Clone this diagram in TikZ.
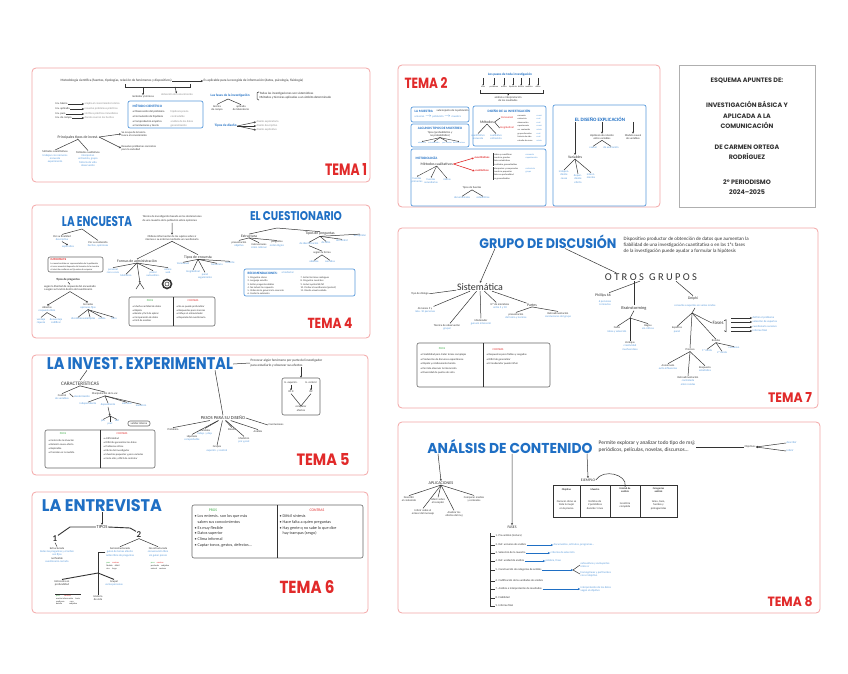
\documentclass[tikz,border=0pt]{standalone}
\usepackage{fontspec}
\setmainfont{Carlito}
\newfontfamily\temafont{Poppins}
\usetikzlibrary{arrows.meta, positioning}

\definecolor{borde}{HTML}{F3A6A6}
\definecolor{rojo}{HTML}{E12A2A}
\definecolor{azul}{HTML}{1F6FC4}
\definecolor{azulclaro}{HTML}{5A9BDC}
\definecolor{verde}{HTML}{3FAE49}
\definecolor{tinta}{HTML}{333333}
\definecolor{gris}{HTML}{8C8C8C}

% titulos estrechos: ancho y alto en bp
\newcommand{\ajusta}[3]{\resizebox{#1bp}{#2bp}{#3}}

\tikzset{
  panel/.style={draw=borde, line width=0.8pt, rounded corners=4pt},
  portadabox/.style={draw=gris!70, line width=0.6pt},
  portada/.style={font=\temafont\bfseries\fontsize{6.4}{10.5}\selectfont, align=center, text=tinta, inner sep=0pt},
  tema/.style={font=\temafont\bfseries, text=rojo, inner sep=0pt},
  titulo/.style={font=\temafont\bfseries, text=azul, inner sep=0pt},
  nota/.style={font=\fontsize{2.8}{3.4}\selectfont, text=tinta, inner sep=0.5pt, align=left},
  notaazul/.style={nota, text=azulclaro},
  notagris/.style={nota, text=gris},
  media/.style={font=\fontsize{3.8}{4.4}\selectfont, text=tinta, inner sep=0.5pt, align=left},
  cabecera/.style={font=\bfseries\fontsize{3.4}{4}\selectfont, text=azul, inner sep=0.5pt},
  mano/.style={font=\fontsize{10}{10}\selectfont, text=tinta, inner sep=0.5pt},
  cajaazul/.style={draw=azulclaro, line width=0.7pt, rounded corners=2pt},
  cajagris/.style={draw=tinta!75, line width=0.6pt, rounded corners=2pt},
  rama/.style={draw=tinta, line width=0.5pt},
  flecha/.style={rama, -{Stealth[length=2pt, width=2pt]}},
  flechita/.style={rama, line width=0.4pt, -{Stealth[length=1.2pt, width=1.2pt]}},
  flechaazul/.style={draw=azul, line width=0.8pt, -{Stealth[length=2pt, width=2pt]}},
  flecharoja/.style={draw=rojo, line width=0.6pt, -{Stealth[length=2pt, width=2pt]}},
}

\begin{document}
\begin{tikzpicture}[x=1bp, y=-1bp]
\useasboundingbox (0,0) rectangle (848,674);
\fill[white] (0,0) rectangle (848,674);

%% ---------- TEMA 1 ----------
\draw[panel] (32,68) rectangle (370,182);
\node[tema] (tema1) at (346,169) {\ajusta{42}{12}{TEMA 1}};
\node[nota, font=\fontsize{3.4}{4}\selectfont, anchor=west] (t1def) at (60,81) {Metodología científica (fuentes, tipologías, relación de fenómenos y dispositivos)};
\node[nota, font=\fontsize{3.4}{4}\selectfont, anchor=west] (t1obj) at (203,81) {Es aplicable para la recogida de información (datos, psicología, fisiología)};
\draw[flecha] (t1def) -- (t1obj);
\coordinate (t1ca) at (125,84);
\coordinate (t1cb) at (190,84);
\draw[rama] (t1ca) -- ++(0,3) -| (t1cb);
\coordinate (t1c1) at (143,87);
\coordinate (t1c2) at (175,87);
\node[nota] (t1m1) at (143,97) {métodos y técnicas};
\node[notagris] (t1m2) at (177,95) {obtención del conocimiento};
\draw[flecha] (t1c1) -- (t1m1);
\draw[flecha] (t1c2) -- (t1m2);
\foreach \y/\a/\b [count=\i] in {104/Inv. básica/amplía el conocimiento teórico, 109/Inv. aplicada/resuelve problemas prácticos, 114/Inv. pura/sin fines prácticos inmediatos, 118/Inv. de campo/donde ocurren los hechos} {
  \node[nota, anchor=west] (t1l\i) at (55,\y) {\a};
  \node[notagris, anchor=west] (t1r\i) at (84,\y) {\b};
  \draw[flecha] (t1l\i) -- (t1r\i);
}
\draw[cajaazul] (128,101) rectangle (203,128);
\node[cabecera, anchor=west] (t1mc) at (132,106) {MÉTODO CIENTÍFICO};
\foreach \y/\a/\b [count=\i] in {112/Observación del problema/hipótesis previa, 117/Formulación de hipótesis/contrastable, 122/Comprobación empírica/análisis de los datos, 126/Conclusiones y teoría/generalización} {
  \node[nota, anchor=west] (t1mc\i) at (132,\y) {• \a};
  \node[notagris, anchor=west] (t1md\i) at (170,\y) {\b};
}
\node[cabecera, anchor=west] (t1fa) at (210,96) {Las fases de la investigación};
\node[nota, font=\fontsize{3.2}{4.2}\selectfont, anchor=west] (t1fb) at (259,96) {Todas las investigaciones son sistemáticas\\Métodos y técnicas aplicadas a un ámbito determinado};
\draw[rama] (t1fb.north west) -- ++(-2,1) -- ++(0,6) -- (t1fb.south west);
\coordinate (t1fx) at (228,99);
\node[nota, align=center] (t1fc) at (217,108) {teórica\\de campo};
\node[nota, align=center] (t1fd) at (241,108) {aplicada\\de laboratorio};
\draw[rama] (t1fx) -- (t1fc.north);
\draw[rama] (t1fx) -- (t1fd.north);
\node[cabecera, anchor=west] (t1ti) at (214,126) {Tipos de diseño};
\foreach \y/\t [count=\i] in {122/diseño exploratorio, 126/diseño descriptivo, 130/diseño explicativo} {
  \node[notagris, anchor=west] (t1ti\i) at (256,\y) {\t};
  \draw[flecha] (t1ti.east) -- (t1ti\i.west);
}
\node[media] (t1pt) at (78,137) {Principales tipos de invest.};
\node[nota, anchor=west] (t1pa) at (121,134) {Se ocupa de la teoría\\busca el conocimiento};
\node[nota, anchor=west] (t1pb) at (121,148) {Resuelve problemas concretos\\para la sociedad};
\draw[flecha] (t1pt.east) -- (t1pa.west);
\draw[flecha] (t1pt.east) -- (t1pb.west);
\node[nota, align=center] (t1pc) at (55,157) {Métodos cuantitativos\\\textcolor{azulclaro}{trabajan con números}\\\textcolor{azulclaro}{encuesta}\\\textcolor{azulclaro}{experimento}};
\node[nota, align=center] (t1pd) at (88,159) {Métodos cualitativos\\\textcolor{azulclaro}{interpretan}\\\textcolor{azulclaro}{entrevista, grupo}\\\textcolor{azulclaro}{historia de vida}\\\textcolor{azulclaro}{observación}};
\draw[rama] (t1pt.south) -- (t1pc.north);
\draw[rama] (t1pt.south) -- (t1pd.north);

%% ---------- TEMA 2 ----------
\draw[panel] (398,65) rectangle (660,207);
\node[tema] (tema2) at (426,83) {\ajusta{43}{11}{TEMA 2}};
\node[cabecera] (t2pa) at (510,75) {Los pasos de toda investigación};
\foreach \x/\t [count=\i] in {483/idea, 494/problema, 504/marco, 513/hipótesis, 521/diseño, 529/muestra, 538/datos} {
  \coordinate (t2s\i) at (\x,78);
  \node[nota, font=\fontsize{2.2}{2.6}\selectfont] (t2p\i) at (\x,87) {\t};
  \draw[flechita] (t2s\i) -- (t2p\i);
}
\coordinate (t2ba) at (480,90);
\coordinate (t2bb) at (543,90);
\draw[rama] (t2ba) -- ++(0,3) -| (t2bb);
\node[nota, align=center] (t2pb) at (508,99) {análisis e interpretación\\de los resultados};
\coordinate (t2bc) at (508,93);
\draw[flechita] (t2bc) -- (t2pb.north);
% caja muestra
\draw[cajaazul] (411,107) rectangle (469,122);
\node[cabecera, anchor=west] (t2ma) at (414,111) {LA MUESTRA};
\node[nota, anchor=west] (t2mb) at (436,111) {subconjunto de la población};
\node[notaazul, anchor=west] (t2mc) at (414,117) {universo $\rightarrow$ población $\rightarrow$ muestra};
% caja tipos de muestreo
\draw[cajaazul] (411,124) rectangle (469,147);
\node[cabecera] (t2ta) at (440,128) {ALGUNOS TIPOS DE MUESTREO};
\node[nota, align=center] (t2tb) at (440,134) {Tipos (probabilístico y\\no probabilístico)};
\foreach \x/\t [count=\i] in {422/aleatorio, 434/estratificado, 447/por cuotas, 459/bola de nieve} {
  \node[notaazul, font=\fontsize{2.2}{2.6}\selectfont] (t2t\i) at (\x,143) {\t};
  \draw[flechita] (t2tb.south) -- (t2t\i.north);
}
% caja diseño
\draw[cajaazul] (473,106) rectangle (546,146);
\node[cabecera] (t2da) at (509,111) {DISEÑO DE LA INVESTIGACIÓN};
\node[media] (t2db) at (487,122) {Métodos};
\node[notaazul, align=center] (t2dc) at (478,137) {cuantitativo\\encuesta};
\node[notaazul, align=center] (t2dd) at (496,137) {cualitativo\\entrevista};
\draw[rama] (t2db.south) -- (t2dc.north);
\draw[rama] (t2db.south) -- (t2dd.north);
\node[nota, text=rojo] (t2de) at (507,118) {transversal};
\node[nota, text=rojo] (t2df) at (507,128) {longitudinal};
\draw[rama] (t2db.east) -- (t2de.west);
\draw[rama] (t2db.east) -- (t2df.west);
\node[nota, anchor=north west, font=\fontsize{2.2}{3.6}\selectfont] (t2dl) at (517,114) {encuesta\\entrevista\\observación\\experimento\\an. contenido\\grupo discusión\\historia de vida\\estudio de casos};
\node[notaazul, anchor=north west, font=\fontsize{2.2}{3.6}\selectfont] (t2dm) at (536,114) {cuant.\\cual.\\cual.\\cuant.\\mixto\\cual.\\cual.\\mixto};
% caja metodologia
\draw[cajaazul] (411,149) rectangle (546,206);
\node[cabecera, anchor=west] (t2me) at (415,158) {METODOLOGÍA};
\node[media, anchor=west] (t2mf) at (420,164) {Métodos cualitativos};
\node[nota, text=rojo, font=\bfseries\fontsize{2.8}{3.4}\selectfont] (t2mr1) at (482,158) {cuantitativos};
\node[nota, text=rojo, font=\bfseries\fontsize{2.8}{3.4}\selectfont] (t2mr2) at (482,171) {cualitativos};
\draw[flecharoja] (t2mf.east) -- (t2mr1.west);
\draw[flecharoja] (t2mf.east) -- (t2mr2.west);
\node[nota, anchor=north west, font=\fontsize{2.3}{3.3}\selectfont] (t2ml1) at (493,153) {miden y cuantifican\\muestras grandes\\datos estadísticos\\resultados generalizables};
\node[nota, anchor=north west, font=\fontsize{2.3}{3.3}\selectfont] (t2ml2) at (493,167) {interpretan y comprenden\\muestras pequeñas\\datos en profundidad\\no generalizables};
\draw[rama] (t2ml1.north west) -- (t2ml1.south west);
\draw[rama] (t2ml2.north west) -- (t2ml2.south west);
\node[notaazul, anchor=north west, font=\fontsize{2.3}{3.3}\selectfont] (t2ml3) at (525,153) {encuesta\\experimento};
\node[notaazul, anchor=north west, font=\fontsize{2.3}{3.3}\selectfont] (t2ml4) at (525,167) {entrevista\\grupo};
\node[notaazul, align=center] (t2mg1) at (417,180) {fuentes\\primarias};
\node[notaazul, align=center] (t2mg2) at (431,181) {fuentes\\secundarias};
\node[notaazul, align=center] (t2mg3) at (447,180) {mixtas};
\foreach \i in {1,2,3} {\draw[flechita] (t2mf.south) -- (t2mg\i.north);}
\node[nota] (t2fu) at (472,188) {Tipos de fuentes};
\node[notaazul, align=center] (t2fu1) at (462,198) {documentales};
\node[notaazul, align=center] (t2fu2) at (483,198) {estadísticas};
\draw[rama] (t2fu.south) -- (t2fu1.north);
\draw[rama] (t2fu.south) -- (t2fu2.north);
% caja diseño explicacion
\draw[cajaazul] (553,105) rectangle (646,206);
\node[cabecera, font=\bfseries\fontsize{5}{6}\selectfont] (t2ea) at (600,119) {EL DISEÑO EXPLICACIÓN};
\node[media, align=center] (t2eb) at (575,157) {Variables};
\draw[flecha] (t2ea.south -| t2eb.north) -- (t2eb.north);
\node[notaazul, align=center] (t2ec) at (564,175) {indepen-\\diente\\causa};
\node[notaazul, align=center] (t2ed) at (578,179) {depen-\\diente\\efecto};
\node[notaazul, align=center] (t2ee) at (591,176) {intervi-\\nientes};
\draw[rama] (t2eb.south) -- (t2ec.north);
\draw[rama] (t2eb.south) -- (t2ed.north);
\draw[rama] (t2eb.south) -- (t2ee.north);
\node[nota, align=center] (t2ef) at (602,137) {Hipótesis de relación\\entre variables};
\draw[flecha] (t2ea.south -| t2ef.north) -- (t2ef.north);
\node[notaazul, align=center] (t2eg) at (593,148) {causal};
\node[notaazul, align=center] (t2eh) at (611,148) {de asociación};
\draw[rama] (t2ef.south) -- (t2eg.north);
\draw[rama] (t2ef.south) -- (t2eh.north);
\node[nota, align=center] (t2ei) at (633,137) {Modelo causal\\de variables};
\draw[flecha] (t2ea.south -| t2ei.north) -- (t2ei.north);

%% ---------- PORTADA ----------
\draw[portadabox] (679,65) rectangle (815,207);
\node[portada] (p1) at (747,81) {ESQUEMA APUNTES DE:};
\node[portada] (p2) at (747,115) {INVESTIGACIÓN BÁSICA Y\\APLICADA A LA\\COMUNICACIÓN};
\node[portada] (p3) at (747,152) {DE CARMEN ORTEGA\\RODRÍGUEZ};
\node[portada] (p4) at (747,187) {2º PERIODISMO\\2024–2025};

%% ---------- TEMA 4 ----------
\draw[panel] (32,205) rectangle (370,338);
\node[tema] (tema4) at (330,323) {\ajusta{45}{10.5}{TEMA 4}};
\node[titulo] (encuesta) at (97,222) {\ajusta{70}{10}{LA ENCUESTA}};
\node[nota, font=\fontsize{2.8}{4}\selectfont, anchor=west] (t4def) at (142,219) {Técnica de investigación basada en las declaraciones\\de una muestra de la población sobre opiniones};
\node[nota, align=center] (t4tec) at (172,238) {Obtiene información de los sujetos sobre sí\\mismos o su entorno mediante un cuestionario};
\draw[flecha] (t4def.south) -- (t4tec.north);
\node[media] (t4ma) at (137,261) {Formas de administración};
\node[media] (t4mb) at (198,257) {Tipos de encuesta};
\draw[rama] (t4tec.south) -- (t4ma.north);
\draw[rama] (t4tec.south) -- (t4mb.north);
\foreach \x/\y/\t [count=\i] in {113/271/personal\\cara a cara, 126/276/telefónica, 153/274/postal\\autoadmin., 168/271/online\\web} {
  \node[notaazul, align=center] (t4a\i) at (\x,\y) {\t};
  \draw[rama] (t4ma.south) -- (t4a\i.north);
}
\coordinate (t4v) at (140,283);
\coordinate (t4v1) at (136,289);
\coordinate (t4v2) at (144,289);
\draw[flecha] (t4ma.south) -- (t4v);
\draw[rama] (t4v1) -- (t4v) -- (t4v2);
\node[circle, draw=tinta, line width=1.6pt, minimum size=9bp, inner sep=0pt] (t4cd) at (167,284) {};
\node[circle, draw=tinta, line width=0.5pt, minimum size=4bp, inner sep=0pt] (t4cd2) at (t4cd) {};
\foreach \x/\y/\t [count=\i] in {183/264/transversal, 193/272/longitudinal, 205/276/panel\\seguimiento, 217/265/tendencia, 230/263/cohorte} {
  \node[notaazul, align=center] (t4b\i) at (\x,\y) {\t};
  \draw[rama] (t4mb.south) -- (t4b\i.north);
}
\draw[cajagris] (129,297) rectangle (215,326);
\draw[rama] (173,297) -- (173,326);
\node[nota, text=verde] (t4pros) at (150,301) {PROS};
\node[nota, text=rojo] (t4contras) at (193,301) {CONTRAS};
\node[nota, anchor=north west, font=\fontsize{2.6}{3.6}\selectfont] (t4pl) at (132,305) {• Mucha cantidad de datos\\• Rápida\\• Barata y fácil de aplicar\\• Comparación de datos\\• Fácil de analizar};
\node[nota, anchor=north west, font=\fontsize{2.6}{3.6}\selectfont] (t4cl) at (176,305) {• No se puede profundizar\\• Respuestas poco sinceras\\• Influye el entrevistador\\• Depende del cuestionario};
\coordinate (t4ap) at (82,229);
\node[nota, align=center] (t4c1) at (62,238) {Por su finalidad\\\textcolor{azulclaro}{descriptiva}};
\node[nota, align=center] (t4c2) at (98,244) {Por su contenido\\\textcolor{azulclaro}{hechos, opiniones}};
\node[notaazul] (t4c3) at (68,247) {explicativa};
\draw[rama] (t4ap) -- (t4c1.north);
\draw[rama] (t4ap) -- (t4c2.north);
\draw[flecha] (t4c1.south) -- (t4c3.north);
\draw[cajagris] (48,257) rectangle (103,272);
\node[nota, text=rojo, font=\bfseries\fontsize{2.8}{3.4}\selectfont, anchor=west] (t4imp) at (50,260) {IMPORTANTE};
\node[nota, anchor=north west, font=\fontsize{2.3}{3.1}\selectfont] (t4impt) at (50,262.5) {La muestra debe ser representativa de la población\\el error muestral depende del tamaño de la muestra\\el nivel de confianza se fija antes de empezar};
\node[nota, font=\bfseries\fontsize{3}{3.5}\selectfont] (t4tip) at (68,280) {Tipos de preguntas};
\node[nota, align=left] (t4tipt) at (70,288) {según la libertad de respuesta del encuestado\\o según su función dentro del cuestionario};
\draw[rama] (t4tip.south) -- (t4tipt.north);
\node[nota, align=center] (t4q1) at (47,309) {Abiertas\\\textcolor{azulclaro}{respuesta libre}};
\node[nota, align=center] (t4q2) at (88,306) {Cerradas\\\textcolor{azulclaro}{opciones fijas}};
\draw[flecha] (t4tipt.south) -- (t4q1.north);
\draw[flecha] (t4tipt.south) -- (t4q2.north);
\node[notaazul, align=center] (t4q3) at (41,321) {ventaja\\riqueza};
\node[notaazul, align=center] (t4q4) at (56,321) {desventaja\\codificar};
\draw[rama] (t4q1.south) -- (t4q3.north);
\draw[rama] (t4q1.south) -- (t4q4.north);
\foreach \x/\t [count=\i] in {78/dicotómicas, 90/múltiples, 102/escala, 114/filtro} {
  \node[notaazul, align=center] (t4r\i) at (\x,319) {\t};
  \draw[rama] (t4q2.south) -- (t4r\i.north);
}
\node[titulo] (cuestionario) at (296,216) {\ajusta{92}{9}{EL CUESTIONARIO}};
\coordinate (t4cap) at (277,228);
\node[media] (t4cl1) at (249,236) {Estructura};
\node[media] (t4cr1) at (320,234) {Tipos de preguntas};
\draw[rama] (t4cap) -- (t4cl1.north);
\draw[rama] (t4cap) -- (t4cr1.north);
\foreach \x/\y/\t [count=\i] in {239/244/presentación\\\textcolor{azulclaro}{objetivo}, 259/246/instrucciones\\\textcolor{azulclaro}{cómo rellenar}, 277/244/preguntas\\\textcolor{azulclaro}{orden lógico}} {
  \node[nota, align=center] (t4cq\i) at (\x,\y) {\t};
  \draw[rama] (t4cl1.south) -- (t4cq\i.north);
}
\foreach \x/\y/\t [count=\i] in {309/244/de identificación, 326/243/de filtro, 342/241/de control, 360/236/de opinión} {
  \node[notaazul, align=center] (t4cp\i) at (\x,\y) {\t};
  \draw[rama] (t4cr1.south) -- (t4cp\i.north);
}
\node[nota] (t4cs) at (322,253) {según su forma};
\draw[rama] (t4cp1.south) -- (t4cs.north);
\node[notaazul] (t4cs1) at (314,262) {abiertas};
\node[notaazul] (t4cs2) at (330,262) {cerradas};
\draw[rama] (t4cs.south) -- (t4cs1.north);
\draw[rama] (t4cs.south) -- (t4cs2.north);
\draw[cajaazul] (244,269) rectangle (355,296);
\node[cabecera, anchor=west] (t4rec) at (247,273) {RECOMENDACIONES:};
\node[notaazul, anchor=west] (t4rec2) at (281,273) {al redactar};
\node[nota, anchor=north west, font=\fontsize{2.5}{3.3}\selectfont] (t4rl) at (247,276) {1. Preguntas claras\\2. Lenguaje sencillo\\3. Evitar preguntas dobles\\4. No inducir la respuesta\\5. Orden de lo general a lo concreto\\6. Cuidar la extensión};
\node[nota, anchor=north west, font=\fontsize{2.5}{3.3}\selectfont] (t4rr) at (300,276) {7. Evitar términos ambiguos\\8. Preguntas neutrales\\9. Incluir opción NS/NC\\10. Probar el cuestionario (pretest)\\11. Diseño visual cuidado};

%% ---------- TEMA 7 ----------
\draw[panel] (398,228) rectangle (818,408);
\node[tema] (tema7) at (790,397) {\ajusta{44}{10}{TEMA 7}};
\node[titulo] (grupo) at (548,241.5) {\ajusta{137}{13.5}{GRUPO DE DISCUSIÓN}};
\node[nota, font=\fontsize{5}{6}\selectfont, anchor=west] (t7def) at (623,245) {Dispositivo productor de obtención de datos que aumentan la\\fiabilidad de una investigación cuantitativa o en las 1ªs fases\\de la investigación puede ayudar a formular la hipótesis};
\node[mano] (sistematica) at (480,287) {Sistemática};
\node[mano, font=\fontsize{10.5}{10.5}\selectfont] (otros) at (651,277) {O T R O S\enspace G R U P O S};
\draw[flecha] ([xshift=-53bp]grupo.south) -- (sistematica.north);
\draw[rama] ([xshift=17bp]grupo.south) -- ([xshift=12bp]otros.north west);
\foreach \x/\y/\t/\u [count=\i] in {420/295/Tipo de diálogo/, 425/310/Al menos 5 y/máx. 10 personas, 447/327/Técnica de observación/grupal, 481/322/Moderador/guía sin intervenir, 500/306/Nº de miembros/entre 5 y 10} {
  \node[nota, align=center] (t7s\i) at (\x,\y) {\t\\\textcolor{azulclaro}{\u}};
  \draw[rama] (sistematica) -- (t7s\i);
}
\node[media] (t7s6) at (532,305) {Partes};
\draw[rama] (sistematica) -- (t7s6);
\node[nota, align=center] (t7s7) at (516,316) {presentación\\\textcolor{azulclaro}{del tema y normas}};
\node[nota, align=center] (t7s8) at (558,315) {Retroalimentación\\\textcolor{azulclaro}{conclusiones del grupo}};
\draw[rama] (t7s6.south) -- (t7s7.north);
\draw[rama] (t7s6.south) -- (t7s8.north);
\draw[cajagris] (417,343) rectangle (550,387);
\draw[rama] (483,343) -- (483,387);
\node[nota, text=verde] (t7pros) at (442,349) {PROS};
\node[nota, text=rojo] (t7contras) at (498,350) {CONTRAS};
\node[nota, anchor=north west, font=\fontsize{2.7}{4.6}\selectfont] (t7pl) at (420,353) {• Flexibilidad para tratar temas complejos\\• Producción de discursos espontáneos\\• Rápido y relativamente barato\\• Permite observar la interacción\\• Diversidad de puntos de vista};
\node[nota, anchor=north west, font=\fontsize{2.7}{4.6}\selectfont] (t7cl) at (486,353) {• Respuestas poco fiables y sesgadas\\• Difícil de generalizar\\• El moderador puede influir};
\node[media] (t7o1) at (603,295) {Phillips 66};
\node[notaazul, align=center] (t7o1b) at (605,303) {6 personas\\6 minutos};
\draw[rama] (otros) -- (t7o1);
\node[media, font=\fontsize{4.4}{5}\selectfont] (t7o2) at (634,308) {Brainstorming};
\draw[rama] (otros.south -| t7o2.north) -- (t7o2.north);
\node[media] (t7o3) at (693,298) {Delphi};
\node[notaazul, align=center] (t7o3b) at (695,306) {consulta a expertos en varias rondas};
\draw[rama] ([xshift=25bp]otros.south) -- (t7o3.north);
\coordinate (t7b0) at (630,318);
\draw[rama] (t7o2.south) -- (t7b0);
\node[nota, align=center] (t7b1) at (617,330) {Fases\\\textcolor{azulclaro}{ideas y selección}};
\node[nota, align=center] (t7b2) at (648,327) {Reglas\\\textcolor{azulclaro}{sin críticas}};
\node[nota, align=center] (t7b3) at (630,346) {Ventajas\\\textcolor{azulclaro}{creatividad}\\\textcolor{azulclaro}{muchas ideas}};
\draw[rama] (t7b0) -- (t7b1.north);
\draw[rama] (t7b0) -- (t7b2.north);
\draw[rama] (t7b0) -- (t7b3.north);
\coordinate (t7d0) at (692,313);
\draw[rama] (t7o3b.south) -- (t7d0);
\node[nota, align=center] (t7d1) at (677,330) {Expertos\\\textcolor{azulclaro}{panel}};
\node[nota, align=center] (t7d2) at (690,350) {Proceso};
\node[media, font=\fontsize{5}{6}\selectfont] (t7d3) at (718,323) {Fases};
\node[nota, align=center] (t7d4) at (716,341) {Rondas};
\draw[rama] (t7d0) -- (t7d1.north);
\draw[rama] (t7d0) -- (t7d2.north);
\draw[rama] (t7d0) -- (t7d3.west);
\draw[rama] (t7d0) -- (t7d4.north);
\draw[rama] (t7d3.north east) -- ++(2,-1) -- ++(0,12) -- ++(-2,-1);
\foreach \y/\t [count=\i] in {318/definir el problema, 322/selección de expertos, 327/cuestionario sucesivo, 331/informe final} {
  \node[notaazul, anchor=west] (t7f\i) at (752,\y) {\t};
  \coordinate (t7fa\i) at (731,\y);
  \draw[flecha] (t7fa\i) -- (t7f\i.west);
}
\foreach \x/\y/\t [count=\i] in {707/351/1ª ronda, 722/353/2ª ronda, 734/348/consenso} {
  \node[notaazul] (t7r\i) at (\x,\y) {\t};
  \draw[rama] (t7d4.south) -- (t7r\i.north);
}
\node[nota, align=center] (t7d5) at (668,367) {Anonimato\\\textcolor{azulclaro}{evita influencias}};
\node[nota, align=center] (t7d6) at (688,381) {Retroalimentación\\\textcolor{azulclaro}{controlada}\\\textcolor{azulclaro}{entre rondas}};
\node[nota, align=center] (t7d7) at (705,369) {Respuesta\\\textcolor{azulclaro}{estadística}};
\draw[rama] (t7d2.south) -- (t7d5.north);
\draw[rama] (t7d2.south) -- (t7d6.north);
\draw[rama] (t7d2.south) -- (t7d7.north);

%% ---------- TEMA 5 ----------
\draw[panel] (32,355) rectangle (368,475);
\node[tema] (tema5) at (323,459) {\ajusta{53}{12}{TEMA 5}};
\node[titulo] (experimental) at (140,364) {\ajusta{186}{12}{LA INVEST. EXPERIMENTAL}};
\node[nota, font=\fontsize{3.4}{4.4}\selectfont, anchor=west] (t5def) at (250,363) {Provocar algún fenómeno por parte del investigador\\para estudiarlo y observar sus efectos};
\draw[rama] (experimental.east) -- (t5def.west);
\node[cajagris, minimum width=38bp, minimum height=37bp] (t5caja) at (301,396.5) {};
\draw[flecha] (t5def.south -| t5caja.north) -- (t5caja.north);
\node[nota] (t5g1) at (291,383) {G. experim.};
\node[nota] (t5g2) at (311,383) {G. control};
\node[nota] (t5o1) at (291,392) {O1 X};
\node[nota] (t5o2) at (311,392) {O2};
\draw[flecha] (t5g1) -- (t5o1);
\draw[flecha] (t5g2) -- (t5o2);
\node[nota, align=center] (t5r) at (301,409) {comparar\\efectos};
\draw[rama] (t5o1.south) -- (t5r.north) -- (t5o2.south);
\node[media, font=\fontsize{5.2}{6}\selectfont] (t5car) at (80,383) {CARACTERÍSTICAS};
\draw[rama] ([xshift=-53bp]experimental.south) -- (t5car.north);
\node[nota, align=center] (t5c1) at (62,397) {Control\\\textcolor{azulclaro}{de variables}};
\node[nota, align=center] (t5c2) at (105,394) {Manipulación de la var.};
\draw[rama] (t5car.south) -- (t5c1.north);
\draw[rama] (t5car.south) -- (t5c2.north);
\node[notaazul, align=center] (t5cc) at (82,397) {aleatorización};
\draw[rama] (t5c1.north east) -- (t5cc.west);
\foreach \x/\y/\t [count=\i] in {88/404/independiente, 108/405/dependiente, 127/404/extrañas, 141/406/medición} {
  \node[notaazul, align=center] (t5d\i) at (\x,\y) {\t};
  \draw[rama] (t5c2.south) -- (t5d\i.north);
}
\coordinate (t5y) at (110,416);
\draw[flecha] (t5d2.south) -- (t5y);
\node[notaazul] (t5y1) at (103,421) {pre};
\node[notaazul] (t5y2) at (110,424) {post};
\node[notaazul] (t5y3) at (117,421) {test};
\draw[rama] (t5y) -- (t5y1.north);
\draw[rama] (t5y) -- (t5y2.north);
\draw[rama] (t5y) -- (t5y3.north);
\node[cajagris, nota, minimum width=22bp, minimum height=5bp] (t5cb) at (139,423.5) {validez interna};
\node[media, font=\fontsize{4.6}{5.4}\selectfont] (t5pasos) at (223,418) {PASOS PARA SU DISEÑO};
\draw[rama] ([xshift=75bp]experimental.south) -- (t5pasos.north);
\foreach \x/\y/\t/\u [count=\i] in {173/431/Problema/, 192/438/Hipótesis/comprobable, 205/432/Variables/indep. y dep., 217/449/Grupos/experim. y control, 232/431/Diseño/, 244/440/Medición/pre y post, 258/433/Análisis/} {
  \node[nota, align=center] (t5p\i) at (\x,\y) {\t\\\textcolor{azulclaro}{\u}};
  \draw[rama] (t5pasos) -- (t5p\i.north);
}
\node[nota] (t5p8) at (276,425) {Conclusiones};
\draw[rama] (t5pasos.east) -- (t5p8.west);
\draw[cajagris] (45,430) rectangle (155,468);
\draw[rama] (100,430) -- (100,468);
\node[nota, text=verde] (t5pros) at (63,434) {PROS};
\node[nota, text=rojo] (t5contras) at (122,434) {CONTRAS};
\node[nota, anchor=north west, font=\fontsize{2.6}{4}\selectfont] (t5pl) at (48,439) {• Control de la situación\\• Relación causa-efecto\\• Replicable\\• Precisión en la medida};
\node[nota, anchor=north west, font=\fontsize{2.6}{4}\selectfont] (t5cl) at (103,437) {• Artificialidad\\• Difícil de generalizar los datos\\• Problemas éticos\\• Efecto del investigador\\• Muestras pequeñas y poco variadas\\• Coste alto y difícil de controlar};

%% ---------- TEMA 6 ----------
\draw[panel] (32,492) rectangle (368,613);
\node[tema] (tema6) at (307,587) {\ajusta{55}{13}{TEMA 6}};
\node[titulo] (entrevista) at (102,506) {\ajusta{120}{12}{LA ENTREVISTA}};
\node[media, font=\fontsize{4.6}{5}\selectfont] (t6tipos) at (102,527) {TIPOS};
\draw[flecha] (entrevista.south) -- (t6tipos.north);
\node[font=\bfseries\fontsize{9}{9}\selectfont, text=tinta, inner sep=0.5pt] (t6uno) at (55,539) {1};
\node[font=\bfseries\fontsize{9}{9}\selectfont, text=tinta, inner sep=0.5pt] (t6dos) at (139,535) {2};
\coordinate (t6codo1) at (70,527);
\coordinate (t6codo2) at (130,528);
\draw[rama, line width=0.9pt] (t6tipos.west) -- (t6codo1) -- (t6uno.north east);
\draw[rama, line width=0.9pt] (t6tipos.east) -- (t6codo2) -- (t6dos.north west);
\node[nota, align=center] (t6est) at (57,555) {Estructurada\\\textcolor{azulclaro}{todas las preguntas y el orden}\\\textcolor{azulclaro}{son fijos}\\no flexible\\\textcolor{azulclaro}{cuestionario cerrado}};
\draw[rama] (t6uno.south) -- (t6est.north);
\node[nota, align=center] (t6s1) at (120,552) {Semiestructurada\\\textcolor{azulclaro}{guion de temas abierto}\\\textcolor{azulclaro}{orden libre de preguntas}};
\node[nota, align=center] (t6s2) at (158,552) {No estructurada\\\textcolor{azulclaro}{conversación libre}\\\textcolor{azulclaro}{sin guion previo}};
\draw[rama] (t6dos.south) -- (t6s1.north);
\draw[rama] (t6dos.south) -- (t6s2.north);
\node[nota, font=\fontsize{2.2}{3}\selectfont, align=left] (t6s1t) at (113,566) {\textcolor{verde}{pros}\quad\textcolor{rojo}{contras}\\flexible\quad difícil\\rica\quad\ larga};
\node[nota, font=\fontsize{2.2}{3}\selectfont, align=left] (t6s2t) at (160,566) {\textcolor{verde}{pros}\quad\textcolor{rojo}{contras}\\profunda\quad subjetiva\\natural\quad costosa};
\coordinate (t6a0) at (98,552);
\coordinate (t6a1) at (98,573);
\draw[rama, line width=0.9pt] (t6s1.west) -- (t6a0) -- (t6a1);
\node[nota, align=center] (t6a) at (62,583) {Entrevista en\\profundidad};
\node[nota, align=center] (t6b) at (98,598) {Historia\\de vida};
\node[nota, align=center] (t6c) at (114,583) {Grupal\\\textcolor{azulclaro}{varias personas}};
\draw[rama, line width=0.9pt] (t6a1) -- (t6a.north);
\draw[rama, line width=0.9pt] (t6a1) -- (t6b.north);
\draw[rama, line width=0.9pt] (t6a1) -- (t6c.north);
\node[nota, font=\fontsize{2.2}{3}\selectfont, align=left] (t6at) at (68,600) {\textcolor{verde}{pros}\qquad\textcolor{rojo}{contras}\\mucha información\quad lenta\\confianza\qquad\ \ cara\\detalle\qquad\quad\ subjetiva};
\draw[rama] (t6at.north west) -- (t6at.north east);
\draw[cajagris] (192,505) rectangle (363,558);
\draw[rama] (277,505) -- (277,558);
\node[media, text=verde] (t6pros) at (213,510) {PROS};
\node[media, text=rojo] (t6contras) at (317,510) {CONTRAS};
\node[media, anchor=north west, font=\fontsize{4.2}{5.8}\selectfont] (t6pl) at (194,514) {• Los entrevis. son los que más\\\phantom{• }saben sus conocimientos\\• Es muy flexible\\• Datos superior\\• Clima informal\\• Captar tonos, gestos, defectos...};
\node[media, anchor=north west, font=\fontsize{4.2}{5.8}\selectfont] (t6cl) at (279,514) {• Difícil síntesis\\• Hace falta a quien preguntas\\• Hay gente q no sabe lo que dice\\\phantom{• }hay trampas (sesgo)};

%% ---------- TEMA 8 ----------
\draw[panel] (398,422) rectangle (820,613);
\node[tema] (tema8) at (790,602) {\ajusta{45}{10}{TEMA 8}};
\node[titulo] (analisis) at (510,446.5) {\ajusta{165}{14}{ANÁLSIS DE CONTENIDO}};
\node[nota, font=\fontsize{5.4}{7}\selectfont, anchor=west] (t8def) at (598,447) {Permite explorar y analizar todo tipo de msj:\\periódicos, películas, novelas, discursos...};
\node[nota] (t8ob) at (750,447) {Objetivos};
\draw[rama] (t8def.east) -- (t8ob.west);
\node[notaazul, anchor=west] (t8o1) at (786,443) {describir};
\node[notaazul, anchor=west] (t8o2) at (786,451) {inferir};
\draw[flecha] (t8o1.west) -- (t8ob.east);
\draw[flecha] (t8o2.west) -- (t8ob.east);
\node[media, font=\fontsize{4.2}{5}\selectfont] (t8apl) at (441,483) {APLICACIONES};
\draw[flecha] ([xshift=-72bp]analisis.south) -- (t8apl.north);
\foreach \x/\y/\t [count=\i] in {409/499/Describir\\el contenido, 423/512/Inferir sobre el\\emisor del mensaje, 438/501/Inferir sobre\\el receptor, 454/514/Analizar los\\efectos del msj, 474/499/Comparar medios\\y contextos} {
  \node[nota, align=center] (t8a\i) at (\x,\y) {\t};
  \draw[rama] (t8apl.south) -- (t8a\i.north);
}
\node[media] (t8fases) at (512,527) {FASES};
\draw[flecha] ([xshift=2bp]analisis.south) -- (t8fases.north);
\coordinate (t8f0) at (490,533);
\coordinate (t8fz) at (490,607);
\draw[rama] (t8f0) -- (t8fz);
\foreach \y/\t [count=\i] in {536/1. Pre-análisis (lectura), 545/2. Def. universo de análisis, 553/3. Selección de la muestra, 561/4. Def. unidad de análisis, 570/5. Construcción de categorías de análisis, 581/6. Codificación de las unidades de análisis, 589/7. Análisis e interpretación de resultados, 598/8. Fiabilidad, 606/9. Informe final} {
  \node[nota, anchor=west] (t8f\i) at (495,\y) {\t};
  \draw[rama] (t8f\i.west -| t8f0) -- (t8f\i.west);
}
\node[notaazul, anchor=west] (t8b2) at (553,545) {documentos, artículos, programas...};
\node[notaazul, anchor=west] (t8b3) at (550,553) {criterios de selección};
\node[notaazul, anchor=west] (t8b4) at (545,561) {palabra, frase};
\node[notaazul, anchor=west, align=left] (t8b7) at (580,589) {interpretación de los datos\\según el objetivo};
\draw[flechaazul] (t8f2.east) -- (t8b2.west);
\draw[flechaazul] (t8f3.east) -- (t8b3.west);
\draw[flechaazul] (t8f4.east) -- (t8b4.west);
\draw[flechaazul] (t8f7.east) -- (t8b7.west);
\coordinate (t8k) at (573,570);
\node[notaazul, anchor=west, align=left] (t8b5) at (580,565) {exhaustivas y excluyentes\\entre sí};
\node[notaazul, anchor=west, align=left] (t8b6) at (580,574) {homogéneas y pertinentes\\con el objetivo};
\draw[flechaazul] (t8f5.east) -- (t8k);
\draw[rama] (t8k) -- (t8b5.west);
\draw[rama] (t8k) -- (t8b6.west);
\node[media] (t8ej) at (588,480) {EJEMPLO};
\draw[flecha] ([xshift=77bp]analisis.south) -- (t8ej.north);
\draw[rama] (553,485) rectangle (677,517);
\foreach \x in {580,610,640} {\draw[rama] (\x,485) -- (\x,517);}
\foreach \x/\h/\b [count=\i] in {566.5/Objetivo/{Conocer cómo se\\trata la mujer\\en la prensa}, 595/Muestra/{Noticias de\\2 periódicos\\durante 1 mes}, 625/{Unidad de\\análisis}/{la noticia\\completa}, 658.5/{Categorías\\análisis}/{tema, tono,\\fuentes y\\protagonistas}} {
  \node[nota, font=\bfseries\fontsize{2.6}{3}\selectfont, align=center] (t8t\i) at (\x,490) {\h};
  \node[nota, align=center] (t8c\i) at (\x,505) {\b};
}
\draw[flecha] (t8ej.east) .. controls +(8,-12) and +(2,-12) .. (t8t3.north);
\end{tikzpicture}
\end{document}
